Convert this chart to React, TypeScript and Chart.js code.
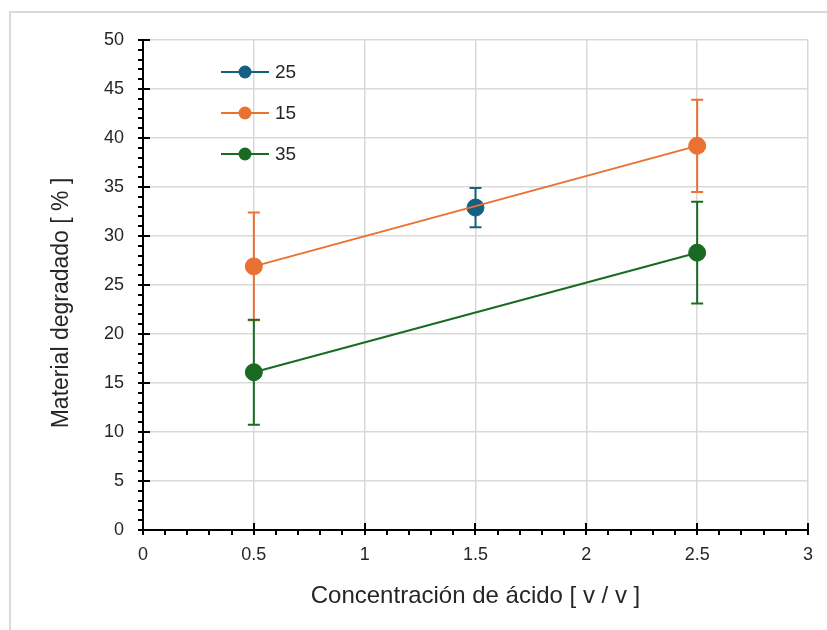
import React, { useEffect, useRef } from "react";
import { Chart, registerables } from "chart.js";

Chart.register(...registerables);

// ---- Data ----
const seriesNames = ["25", "15", "35"];
const seriesColors = ["#156082", "#E97132", "#196B24"];

const x25 = [1.5];
const y25 = [32.9];
const err25 = [2.0];

const x15 = [0.5, 2.5];
const y15 = [26.9, 39.2];
const err15 = [5.5, 4.7];

const x35 = [0.5, 2.5];
const y35 = [16.1, 28.3];
const err35 = [5.35, 5.2];

const xTitle = "Concentración de ácido [ v / v ]";
const yTitle = "Material degradado [ % ]";

const xMin = 0, xMax = 3, xStep = 0.5, xMinor = 0.1;
const yMin = 0, yMax = 50, yStep = 5, yMinor = 1;

const FONT = "'Liberation Sans', Arial, sans-serif";

const toPoints = (xs: number[], ys: number[]) => xs.map((x, i) => ({ x, y: ys[i] }));

const errorBarPlugin = {
  id: "errorBars",
  beforeDatasetDraw(chart: any, args: any) {
    const ds: any = chart.data.datasets[args.index];
    const errs: number[] | undefined = ds.errorBars;
    if (!errs) return;
    const ctx = chart.ctx;
    const ys = chart.scales.y;
    ctx.save();
    ctx.strokeStyle = ds.borderColor;
    ctx.lineWidth = 2;
    args.meta.data.forEach((pt: any, i: number) => {
      const v = ds.data[i].y;
      const top = ys.getPixelForValue(v + errs[i]);
      const bot = ys.getPixelForValue(v - errs[i]);
      const x = pt.x;
      ctx.beginPath();
      ctx.moveTo(x, top);
      ctx.lineTo(x, bot);
      ctx.moveTo(x - 6, top);
      ctx.lineTo(x + 6, top);
      ctx.moveTo(x - 6, bot);
      ctx.lineTo(x + 6, bot);
      ctx.stroke();
    });
    ctx.restore();
  },
};

const tickMarksPlugin = {
  id: "tickMarks",
  afterDraw(chart: any) {
    const ctx = chart.ctx;
    const xs = chart.scales.x;
    const ys = chart.scales.y;
    const area = chart.chartArea;
    ctx.save();
    ctx.strokeStyle = "#000";
    ctx.lineWidth = 2;
    ctx.beginPath();
    const nx = Math.round((xMax - xMin) / xMinor);
    for (let i = 0; i <= nx; i++) {
      const v = xMin + i * xMinor;
      const px = Math.round(xs.getPixelForValue(v));
      const major = i % Math.round(xStep / xMinor) === 0;
      const y0 = area.bottom;
      ctx.moveTo(px, major ? y0 - 7 : y0);
      ctx.lineTo(px, y0 + 5);
    }
    const ny = Math.round((yMax - yMin) / yMinor);
    for (let i = 0; i <= ny; i++) {
      const v = yMin + i * yMinor;
      const py = Math.round(ys.getPixelForValue(v));
      const major = i % Math.round(yStep / yMinor) === 0;
      const x0 = area.left;
      ctx.moveTo(x0 - 5, py);
      ctx.lineTo(major ? x0 + 7 : x0, py);
    }
    ctx.stroke();
    ctx.restore();
  },
};

const legendPlugin = {
  id: "customLegend",
  afterDraw(chart: any) {
    const ctx = chart.ctx;
    const area = chart.chartArea;
    const left = area.left + 78;
    const top = area.top + 32;
    ctx.save();
    seriesNames.forEach((name, i) => {
      const y = top + i * 41;
      const color = seriesColors[i];
      ctx.strokeStyle = color;
      ctx.lineWidth = 2;
      ctx.beginPath();
      ctx.moveTo(left, y);
      ctx.lineTo(left + 48, y);
      ctx.stroke();
      ctx.fillStyle = color;
      ctx.beginPath();
      ctx.arc(left + 24, y, 6.5, 0, Math.PI * 2);
      ctx.fill();
      ctx.fillStyle = "#262626";
      ctx.font = `19px ${FONT}`;
      ctx.textAlign = "left";
      ctx.textBaseline = "middle";
      ctx.fillText(name, left + 54, y + 1);
    });
    ctx.restore();
  },
};

const titlesPlugin = {
  id: "axisTitles",
  afterDraw(chart: any) {
    const ctx = chart.ctx;
    const area = chart.chartArea;
    ctx.save();
    ctx.fillStyle = "#262626";
    ctx.textAlign = "center";
    ctx.textBaseline = "middle";
    ctx.font = `24px ${FONT}`;
    ctx.fillText(xTitle, (area.left + area.right) / 2, 596);
    ctx.font = `23px ${FONT}`;
    ctx.translate(62, (area.top + area.bottom) / 2 + 18);
    ctx.rotate(-Math.PI / 2);
    ctx.fillText(yTitle, 0, 0);
    ctx.restore();
  },
};

export default function App() {
  const canvasRef = useRef<HTMLCanvasElement | null>(null);

  useEffect(() => {
    if (!canvasRef.current) return;
    const mk = (i: number, xs: number[], ys: number[], errs: number[], order: number) => ({
      label: seriesNames[i],
      data: toPoints(xs, ys),
      errorBars: errs,
      borderColor: seriesColors[i],
      backgroundColor: seriesColors[i],
      pointBackgroundColor: seriesColors[i],
      pointBorderColor: seriesColors[i],
      pointRadius: 8.5,
      pointBorderWidth: 1,
      borderWidth: 2,
      showLine: true,
      order,
    });
    const chart = new Chart(canvasRef.current, {
      type: "scatter",
      data: {
        datasets: [
          mk(0, x25, y25, err25, 3),
          mk(1, x15, y15, err15, 2),
          mk(2, x35, y35, err35, 1),
        ] as any,
      },
      options: {
        animation: false,
        responsive: false,
        events: [],
        layout: { padding: { left: 0, top: 40, right: 10, bottom: 0 } },
        plugins: {
          legend: { display: false },
          tooltip: { enabled: false },
        },
        scales: {
          x: {
            type: "linear",
            min: xMin,
            max: xMax,
            afterFit: (s: any) => {
              s.height = 100;
            },
            ticks: {
              stepSize: xStep,
              padding: 14,
              color: "#262626",
              font: { family: FONT, size: 18 },
              callback: (v: any) => String(Number(v)),
            },
            grid: { color: "#d9d9d9", lineWidth: 1.5, drawTicks: false },
            border: { display: true, color: "#000", width: 2 },
          },
          y: {
            type: "linear",
            min: yMin,
            max: yMax,
            afterFit: (s: any) => {
              s.width = 143;
            },
            ticks: {
              stepSize: yStep,
              padding: 19,
              color: "#262626",
              font: { family: FONT, size: 18 },
            },
            grid: { color: "#d9d9d9", lineWidth: 1.5, drawTicks: false },
            border: { display: true, color: "#000", width: 2 },
          },
        },
      } as any,
      plugins: [errorBarPlugin, tickMarksPlugin, legendPlugin, titlesPlugin],
    });
    return () => chart.destroy();
  }, []);

  return (
    <div style={{ position: "fixed", left: 0, top: 0, width: 827, height: 630, background: "#fff", overflow: "hidden" }}>
      <div
        style={{
          position: "absolute",
          left: 9,
          top: 11,
          width: 900,
          height: 700,
          borderTop: "2px solid #d9d9d9",
          borderLeft: "2px solid #d9d9d9",
        }}
      />
      <canvas
        ref={canvasRef}
        width={827}
        height={630}
        style={{ position: "absolute", left: 0, top: 0, width: 827, height: 630 }}
      />
    </div>
  );
}
